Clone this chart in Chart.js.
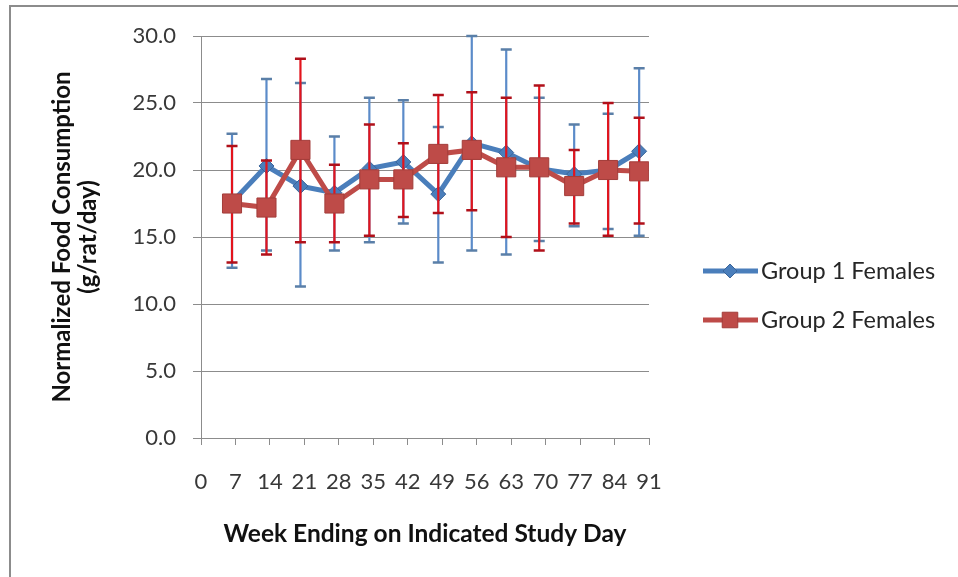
<!DOCTYPE html>
<html><head><meta charset="utf-8">
<script src="https://cdn.jsdelivr.net/npm/chart.js@4"></script>
<style>
html,body{margin:0;padding:0;background:#fff;overflow:hidden}
#wrap{position:relative;width:958px;height:577px;overflow:hidden}
#frame{position:absolute;left:9px;top:5px;width:1000px;height:1000px;border-left:2px solid #8c8c8c;border-top:2px solid #8c8c8c;pointer-events:none}
canvas{position:absolute;left:0;top:0}
</style></head><body>
<div id="wrap"><canvas id="c" width="958" height="577"></canvas><div id="frame"></div></div>
<script>
// ---- data ----
const studyDays = [6.3, 13.3, 20.2, 27.1, 34.2, 41.1, 48.2, 55.0, 62.0, 68.7, 75.8, 82.7, 89.0];
const xTickValues = [0, 7, 14, 21, 28, 35, 42, 49, 56, 63, 70, 77, 84, 91];
const yTickValues = [0, 5, 10, 15, 20, 25, 30];

const seriesNames = ['Group 1 Females', 'Group 2 Females'];

const group1Mean  = [17.6, 20.3, 18.8, 18.3, 20.1, 20.6, 18.2, 22.0, 21.3, 20.1, 19.7, 20.0, 21.4];
const group1Upper = [22.7, 26.8, 26.5, 22.5, 25.4, 25.2, 23.2, 30.0, 29.0, 25.4, 23.4, 24.2, 27.6];
const group1Lower = [12.7, 14.0, 11.3, 14.0, 14.6, 16.0, 13.1, 14.0, 13.7, 14.7, 15.8, 15.6, 15.1];

const group2Mean  = [17.5, 17.2, 21.5, 17.5, 19.3, 19.3, 21.2, 21.5, 20.2, 20.2, 18.8, 20.0, 19.9];
const group2Upper = [21.8, 20.7, 28.3, 20.4, 23.4, 22.0, 25.6, 25.8, 25.4, 26.3, 21.5, 25.0, 23.9];
const group2Lower = [13.1, 13.7, 14.6, 14.6, 15.1, 16.5, 16.8, 17.0, 15.0, 14.0, 16.0, 15.1, 16.0];

// ---- styles ----
const BLUE = '#4A7EBB', BLUE_EDGE = '#3A659A', BLUE_BAR = '#5B8BC9', BLUE_CAP = '#5A7FA8';
const RED = '#BE4B48', RED_EDGE = '#A33D3A', RED_BAR = '#E3141C', RED_CAP = '#B0101A';
const GRID = '#8c8c8c';
const FONT = 'Lato, "Open Sans", sans-serif';

Chart.defaults.font.family = FONT;

const toPts = (ys) => studyDays.map((d, i) => ({x: d, y: ys[i]}));

const errorBars = {
  id: 'errorBars',
  beforeDatasetDraw(chart, args) {
    const ds = chart.data.datasets[args.index];
    if (!ds.errUpper) return;
    const xs = chart.scales.x, ys = chart.scales.y, ctx = chart.ctx, a = chart.chartArea;
    ctx.save();
    ctx.beginPath();
    ctx.rect(a.left - 10, a.top - 2, a.right - a.left + 20, a.bottom - a.top + 4);
    ctx.clip();
    ds.data.forEach((p, i) => {
      const px = xs.getPixelForValue(p.x);
      const yt = ys.getPixelForValue(Math.min(ds.errUpper[i], ys.max));
      const yb = ys.getPixelForValue(ds.errLower[i]);
      ctx.lineWidth = 2.2;
      ctx.strokeStyle = ds.errColor;
      ctx.beginPath(); ctx.moveTo(px, yt); ctx.lineTo(px, yb); ctx.stroke();
      ctx.lineWidth = 2.5;
      ctx.strokeStyle = ds.errCapColor;
      ctx.beginPath();
      ctx.moveTo(px - 5.5, yt); ctx.lineTo(px + 5.5, yt);
      ctx.moveTo(px - 5.5, yb); ctx.lineTo(px + 5.5, yb);
      ctx.stroke();
    });
    ctx.restore();
  }
};

const customLegend = {
  id: 'customLegend',
  afterDraw(chart) {
    const ctx = chart.ctx;
    const items = [
      {y: 271, color: BLUE, edge: BLUE_EDGE, style: 'rectRot', r: 7, text: seriesNames[0]},
      {y: 320, color: RED, edge: RED_EDGE, style: 'rect', r: 11, text: seriesNames[1]}
    ];
    items.forEach(it => {
      ctx.save();
      ctx.strokeStyle = it.color; ctx.lineWidth = 5; ctx.lineCap = 'butt';
      ctx.beginPath(); ctx.moveTo(703, it.y); ctx.lineTo(758, it.y); ctx.stroke();
      ctx.fillStyle = it.color; ctx.strokeStyle = it.edge; ctx.lineWidth = 1;
      Chart.helpers.drawPoint(ctx, {pointStyle: it.style, radius: it.r, borderWidth: 1}, 730, it.y);
      ctx.fillStyle = '#262626';
      ctx.font = '23.5px ' + FONT;
      ctx.textBaseline = 'middle'; ctx.textAlign = 'left';
      ctx.fillText(it.text, 761, it.y);
      ctx.restore();
    });
  }
};

new Chart(document.getElementById('c'), {
  type: 'line',
  data: {
    datasets: [
      {
        label: seriesNames[0], data: toPts(group1Mean), order: 1,
        borderColor: BLUE, borderWidth: 5, backgroundColor: BLUE,
        pointStyle: 'rectRot', pointRadius: 7.5, pointBackgroundColor: BLUE,
        pointBorderColor: BLUE_EDGE, pointBorderWidth: 1, tension: 0,
        errUpper: group1Upper, errLower: group1Lower, errColor: BLUE_BAR, errCapColor: BLUE_CAP
      },
      {
        label: seriesNames[1], data: toPts(group2Mean), order: 0,
        borderColor: RED, borderWidth: 5, backgroundColor: RED,
        pointStyle: 'rect', pointRadius: 13.5, pointBackgroundColor: RED,
        pointBorderColor: RED_EDGE, pointBorderWidth: 1, tension: 0,
        errUpper: group2Upper, errLower: group2Lower, errColor: RED_BAR, errCapColor: RED_CAP
      }
    ]
  },
  options: {
    responsive: false,
    animation: false,
    devicePixelRatio: 1,
    layout: {padding: {top: 36, right: 309, bottom: 0, left: 0}},
    plugins: {legend: {display: false}, tooltip: {enabled: false}},
    scales: {
      x: {
        type: 'linear', min: 0, max: 91,
        afterBuildTicks: s => { s.ticks = xTickValues.map(v => ({value: v})); },
        afterFit: s => { s.height = 139; },
        grid: {drawOnChartArea: false, drawTicks: true, tickLength: 7, color: GRID},
        border: {display: true, color: GRID, width: 1},
        ticks: {color: '#383838', font: {size: 22}, padding: 24, maxRotation: 0, autoSkip: false,
                callback: v => String(v)},
        title: {display: true, text: 'Week Ending on Indicated Study Day', color: '#111',
                font: {size: 24.5, weight: 'bold', lineHeight: '28px'}, padding: {top: 0, bottom: 29}}
      },
      y: {
        min: 0, max: 30,
        afterBuildTicks: s => { s.ticks = yTickValues.map(v => ({value: v})); },
        afterFit: s => { s.width = 201; },
        grid: {color: GRID, lineWidth: 1, drawTicks: true, tickLength: 8},
        border: {display: true, color: GRID, width: 1},
        ticks: {color: '#383838', font: {size: 22}, padding: 17, callback: v => Number(v).toFixed(1)},
        title: {display: true, text: ['Normalized Food Consumption', '(g/rat/day)'], color: '#111',
                font: {size: 24, weight: 'bold', lineHeight: '26px'}, padding: {top: 49, bottom: 0}}
      }
    }
  },
  plugins: [errorBars, customLegend]
});
</script>
</body></html>
